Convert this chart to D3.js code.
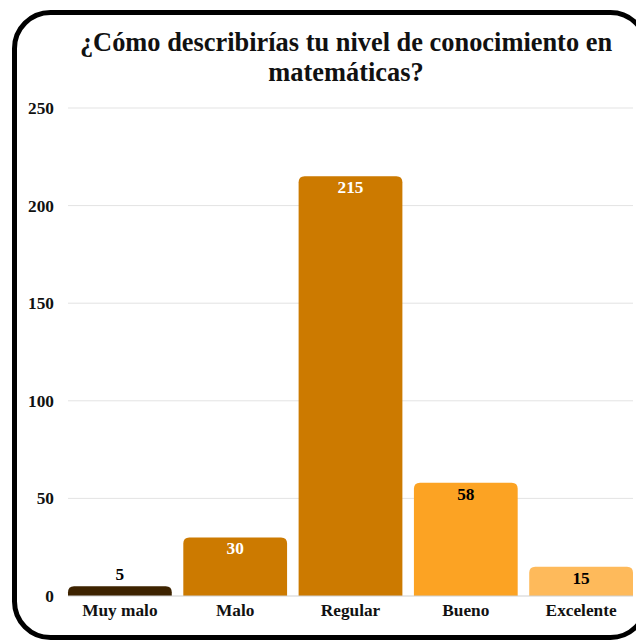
<!DOCTYPE html>
<html>
<head>
<meta charset="utf-8">
<script src="https://cdn.jsdelivr.net/npm/d3@7"></script>
<style>
  html, body { margin: 0; padding: 0; background: #fff; overflow: hidden; }
  svg { display: block; }
  text { font-family: "Liberation Serif", "Times New Roman", serif; font-weight: bold; }
</style>
</head>
<body>
<svg id="chart" width="636" height="641"></svg>
<script>
// Survey answers: self-rated level in mathematics
const categories = ["Muy malo", "Malo", "Regular", "Bueno", "Excelente"];
const counts = [5, 30, 215, 58, 15];
const barColors = ["#3d2300", "#cc7a00", "#cc7a00", "#fca323", "#feba5b"];
const labelColors = ["#000", "#fff", "#fff", "#000", "#000"];
const yTicks = [0, 50, 100, 150, 200, 250];
const titleLines = ["¿Cómo describirías tu nivel de conocimiento en", "matemáticas?"];

const svg = d3.select("#chart");

// Card frame with rounded corners
svg.append("rect")
  .attr("x", 14.5).attr("y", 12.5)
  .attr("width", 632).attr("height", 625)
  .attr("rx", 36).attr("ry", 36)
  .attr("fill", "#fff")
  .attr("stroke", "#000")
  .attr("stroke-width", 5);

// Title
svg.append("text")
  .attr("x", 346).attr("y", 51)
  .attr("text-anchor", "middle")
  .attr("font-size", 26.4)
  .attr("fill", "#111")
  .selectAll("tspan")
  .data(titleLines)
  .join("tspan")
  .attr("x", 346)
  .attr("dy", (d, i) => i === 0 ? 0 : 29.5)
  .text(d => d);

const plotLeft = 68, plotRight = 633, plotTop = 108, plotBottom = 596;

const x = d3.scaleBand()
  .domain(categories)
  .range([plotLeft, plotRight])
  .paddingInner(0.1)
  .paddingOuter(0);

const y = d3.scaleLinear()
  .domain([0, 250])
  .range([plotBottom, plotTop]);

// Horizontal gridlines
svg.append("g")
  .selectAll("line")
  .data(yTicks.filter(t => t > 0))
  .join("line")
  .attr("x1", plotLeft).attr("x2", plotRight)
  .attr("y1", d => y(d)).attr("y2", d => y(d))
  .attr("stroke", "#e3e3e3")
  .attr("stroke-width", 1);

// Y axis tick labels
const yAxis = d3.axisLeft(y).tickValues(yTicks).tickSize(0).tickPadding(0);
const gy = svg.append("g")
  .attr("transform", `translate(${plotLeft - 14},0)`)
  .call(yAxis);
gy.select(".domain").remove();
gy.selectAll("text")
  .attr("font-size", 17.3)
  .attr("fill", "#111")
  .attr("font-family", "Liberation Serif, serif")
  .attr("font-weight", "bold");

// Bars with rounded top corners
function topRounded(x0, y0, w, h, r) {
  r = Math.min(r, h, w / 2);
  return `M${x0},${y0 + h}V${y0 + r}Q${x0},${y0} ${x0 + r},${y0}` +
         `H${x0 + w - r}Q${x0 + w},${y0} ${x0 + w},${y0 + r}V${y0 + h}Z`;
}

svg.append("g")
  .selectAll("path")
  .data(counts)
  .join("path")
  .attr("d", (d, i) => topRounded(x(categories[i]), y(d), x.bandwidth(), y(0) - y(d), 6))
  .attr("fill", (d, i) => barColors[i]);

// Baseline
svg.append("line")
  .attr("x1", plotLeft).attr("x2", plotRight)
  .attr("y1", y(0)).attr("y2", y(0))
  .attr("stroke", "#cfcfcf")
  .attr("stroke-width", 1);

// X axis labels
const xAxis = d3.axisBottom(x).tickSize(0).tickPadding(0);
const gx = svg.append("g")
  .attr("transform", `translate(0,${y(0) + 8})`)
  .call(xAxis);
gx.select(".domain").remove();
gx.selectAll("text")
  .attr("font-size", 17.3)
  .attr("fill", "#111")
  .attr("font-family", "Liberation Serif, serif")
  .attr("font-weight", "bold");

// Value labels: inside the bar when it is tall enough, otherwise above
svg.append("g")
  .selectAll("text")
  .data(counts)
  .join("text")
  .attr("x", (d, i) => x(categories[i]) + x.bandwidth() / 2)
  .attr("y", d => (y(0) - y(d)) > 25 ? y(d) + 17 : y(d) - 6)
  .attr("text-anchor", "middle")
  .attr("font-size", 17.3)
  .attr("fill", (d, i) => labelColors[i])
  .text(d => d);
</script>
</body>
</html>
